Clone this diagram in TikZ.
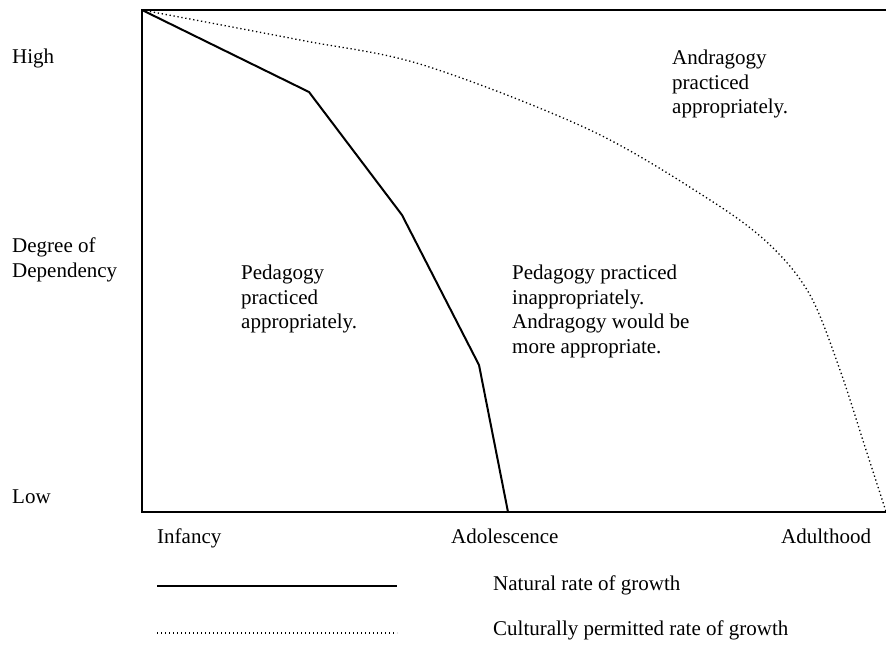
\documentclass[tikz,border=0pt]{standalone}
\usepackage{fontspec}
\setmainfont{Liberation Serif}
\begin{document}
\begin{tikzpicture}[x=1pt,y=-1pt,
  lbl/.style={inner sep=0, anchor=base west, font=\fontsize{21}{24.5}\selectfont},
  blk/.style={inner sep=0, anchor=north west, align=left, font=\fontsize{21}{24.5}\selectfont},
  natural/.style={line width=2pt},
  cultural/.style={line width=1.3pt, dash pattern=on 1.3pt off 2.7pt}]
\useasboundingbox (0,0) rectangle (886,646);
\clip (0,0) rectangle (886,646);
% frame
\draw[line width=2pt] (895,10) -- (142,10) -- (142,512) -- (895,512);
% natural rate
\coordinate (nat0) at (142,10);
\coordinate (nat1) at (309,92);
\coordinate (nat2) at (402,215);
\coordinate (nat3) at (479,365);
\coordinate (nat4) at (508,512);
\draw[natural] (nat0) -- (nat1) -- (nat2) -- (nat3) -- (nat4);
% culturally permitted rate
\draw[cultural] plot[smooth, tension=0.55] coordinates {(142,10) (300,40) (423,65) (590,130) (710,200) (770,245) (810,295) (840,370) (866,450) (892,530)};
% axis labels
\node[lbl] (high) at (12,63) {High};
\node[blk] (degree) at (12,238) {Degree of\\Dependency};
\node[lbl] (low) at (12,503) {Low};
\node[lbl] (infancy) at (157,543) {Infancy};
\node[lbl] (adol) at (451,543) {Adolescence};
\node[lbl] (adult) at (781,543) {Adulthood};
% regions
\node[blk] (pedok) at (241,265) {Pedagogy\\practiced\\appropriately.};
\node[blk] (pednot) at (512,265) {Pedagogy practiced\\inappropriately.\\Andragogy would be\\more appropriate.};
\node[blk] (andok) at (672,50) {Andragogy\\practiced\\appropriately.};
% legend
\coordinate (legA) at (157,586);
\coordinate (legB) at (397,586);
\coordinate (legC) at (157,633);
\coordinate (legD) at (397,633);
\draw[natural] (legA) -- (legB);
\draw[cultural] (legC) -- (legD);
\node[lbl] (natlbl) at (493,590) {Natural rate of growth};
\node[lbl] (cultlbl) at (493,635) {Culturally permitted rate of growth};
\end{tikzpicture}
\end{document}
